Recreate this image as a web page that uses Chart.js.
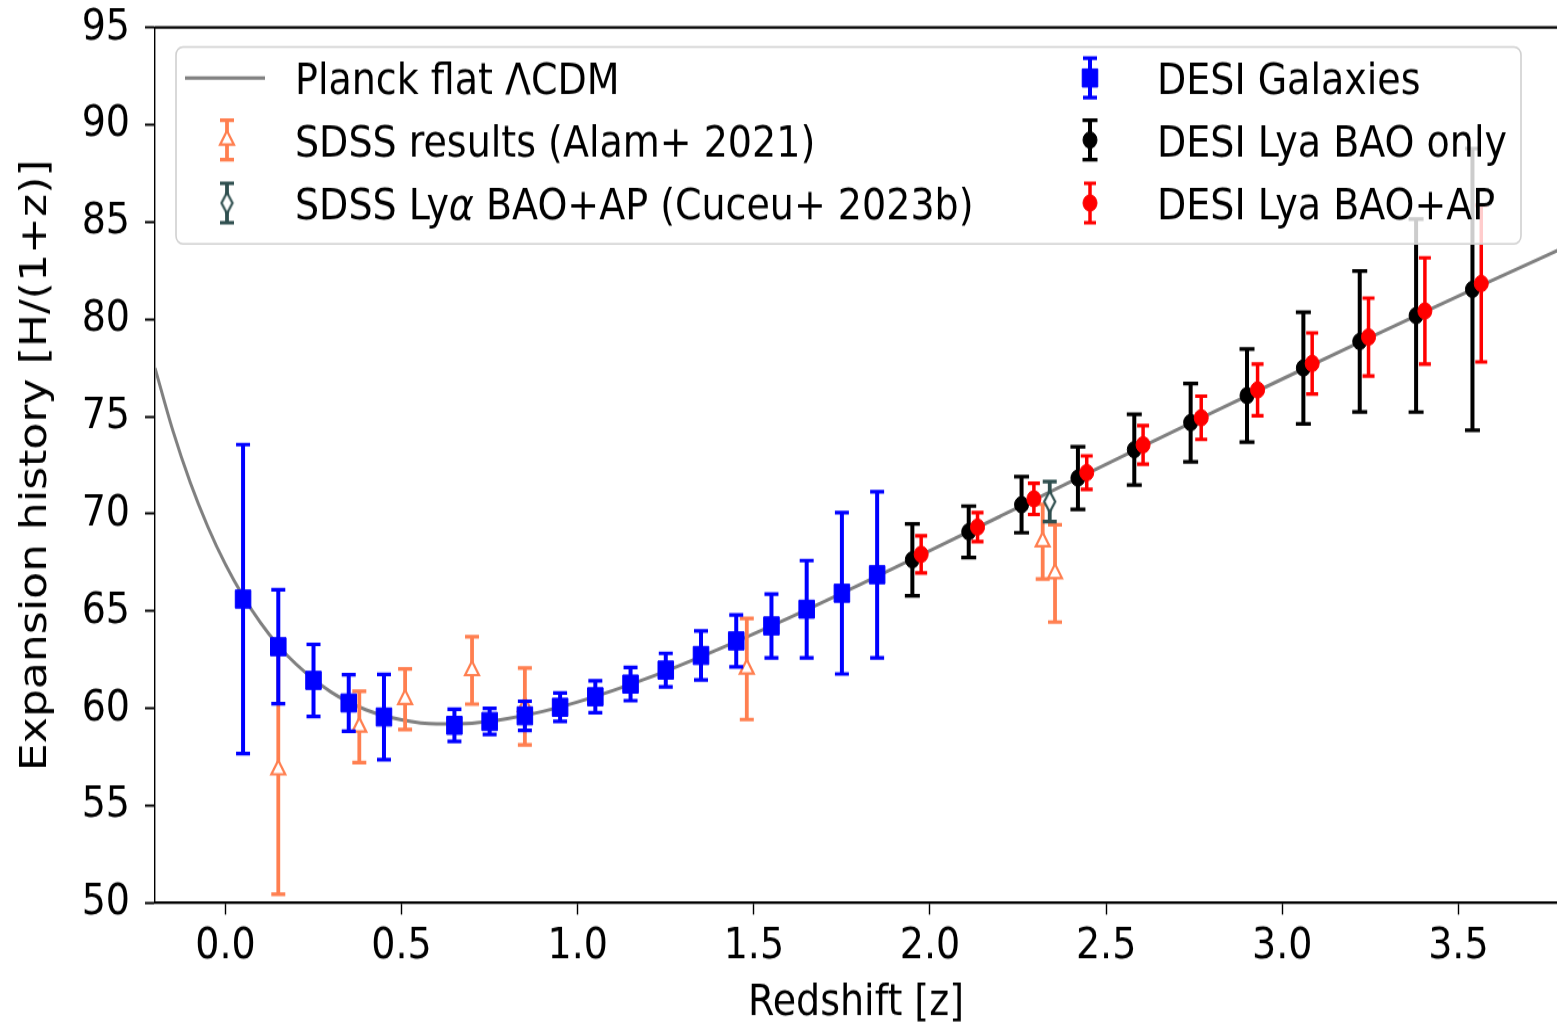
<!DOCTYPE html>
<html><head><meta charset="utf-8">
<script src="https://cdn.jsdelivr.net/npm/chart.js@4.4.1/dist/chart.umd.min.js"></script>
<style>
html,body{margin:0;padding:0;overflow:hidden;background:#fff;width:1557px;height:1022px}
#wrap{position:absolute;left:0;top:0;width:1557px;height:881px;transform:scaleY(1.16);transform-origin:0 0}
canvas{display:block}
</style></head><body>
<div id="wrap"><canvas id="c" width="1557" height="881"></canvas></div>
<script>
// ---------- data ----------
const xTicks = [0, 0.5, 1.0, 1.5, 2.0, 2.5, 3.0, 3.5];
const xTickLabels = ['0.0','0.5','1.0','1.5','2.0','2.5','3.0','3.5'];
const yTicks = [50, 55, 60, 65, 70, 75, 80, 85, 90, 95];
const yTickLabels = ['50','55','60','65','70','75','80','85','90','95'];

// Planck flat LCDM curve, H/(1+z)
const curveZ = [-0.2,-0.15,-0.1,-0.05,0,0.05,0.1,0.15,0.2,0.3,0.4,0.5,0.6,0.7,0.8,0.9,1.0,1.2,1.4,1.6,1.8,2.0,2.2,2.4,2.6,2.8,3.0,3.2,3.4,3.6,3.8];
const curveH = [77.5,74.32,71.62,69.34,67.4,65.77,64.39,63.23,62.28,60.84,59.92,59.41,59.2,59.24,59.47,59.84,60.33,61.57,63.05,64.66,66.36,68.11,69.88,71.66,73.43,75.19,76.93,78.65,80.35,82.03,83.69];

// SDSS results (Alam+ 2021)
const sdssZ   = [0.15, 0.38, 0.51, 0.70, 0.85, 1.48, 2.32, 2.355];
const sdssH   = [56.85, 59.05, 60.47, 61.95, 60.1, 62.03, 68.57, 66.94];
const sdssErr = [6.4, 1.83, 1.56, 1.73, 1.97, 2.6, 1.92, 2.5];

// SDSS Lya BAO+AP (Cuceu+ 2023b)
const lyaSdssZ   = [2.34];
const lyaSdssH   = [70.63];
const lyaSdssErr = [1.03];

// DESI Galaxies
const galZ   = [0.05,0.15,0.25,0.35,0.45,0.65,0.75,0.85,0.95,1.05,1.15,1.25,1.35,1.45,1.55,1.65,1.75,1.85];
const galH   = [65.62,63.17,61.44,60.28,59.56,59.13,59.33,59.62,60.06,60.6,61.25,61.97,62.72,63.47,64.24,65.1,65.92,66.87];
const galErr = [7.94,2.93,1.85,1.45,2.19,0.83,0.67,0.75,0.73,0.82,0.85,0.86,1.26,1.33,1.64,2.5,4.15,4.27];

// DESI Lya BAO only
const baoZ   = [1.95,2.11,2.26,2.42,2.58,2.74,2.90,3.06,3.22,3.38,3.54];
const baoH   = [67.64,69.08,70.47,71.84,73.3,74.69,76.08,77.5,78.86,80.19,81.54];
const baoErr = [1.85,1.32,1.44,1.61,1.82,2.01,2.39,2.87,3.62,4.96,7.24];

// DESI Lya BAO+AP
const apZ   = [1.975,2.135,2.295,2.445,2.605,2.77,2.93,3.085,3.245,3.405,3.565];
const apH   = [67.92,69.32,70.77,72.12,73.55,74.94,76.37,77.73,79.09,80.43,81.84];
const apErr = [0.95,0.75,0.8,0.86,0.99,1.11,1.33,1.57,2.0,2.73,4.03];

// ---------- helpers ----------
const pts = (xs, ys) => xs.map((x, i) => ({x: x, y: ys[i]}));
const FONT = '"DejaVu Sans", sans-serif';
const SLATE = '#2f4f4f', CORAL = '#ff7f50';

// thin diamond marker
const diamond = document.createElement('canvas');
diamond.width = 15; diamond.height = 21;
(function(){
  const g = diamond.getContext('2d');
  g.beginPath();
  g.moveTo(7.5, 1.5); g.lineTo(13, 10.5); g.lineTo(7.5, 19.5); g.lineTo(2, 10.5); g.closePath();
  g.fillStyle = '#fff'; g.fill();
  g.lineWidth = 2.2; g.strokeStyle = SLATE; g.stroke();
})();

Chart.defaults.color = '#000';
Chart.defaults.font.family = FONT;

const N = 6;
const datasets = [
  {type:'line', label:'Planck flat ΛCDM', data: pts(curveZ, curveH), borderColor:'#808080', borderWidth:3,
   pointRadius:0, cubicInterpolationMode:'monotone', fill:false, order:N-0, handle:'line'},
  {label:'SDSS results (Alam+ 2021)', data: pts(sdssZ, sdssH), yerr: sdssErr, errColor: CORAL, errWidth:3.8, capW:14,
   pointStyle:'triangle', pointRadius:8, backgroundColor:'#fff', borderColor:CORAL, borderWidth:2.2, order:N-1},
  {label:'SDSS Lyα BAO+AP (Cuceu+ 2023b)', data: pts(lyaSdssZ, lyaSdssH), yerr: lyaSdssErr, errColor: SLATE, errWidth:3.8, capW:14,
   pointStyle: diamond, pointRadius:8, backgroundColor:'#fff', borderColor:SLATE, borderWidth:2, order:N-2},
  {label:'DESI Galaxies', data: pts(galZ, galH), yerr: galErr, errColor:'#0000ff', errWidth:4, capW:14,
   pointStyle:'rect', pointRadius:11, backgroundColor:'#0000ff', borderColor:'#0000ff', borderWidth:1, order:N-3},
  {label:'DESI Lya BAO only', data: pts(baoZ, baoH), yerr: baoErr, errColor:'#000', errWidth:4, capW:15,
   pointStyle:'circle', pointRadius:7, backgroundColor:'#000', borderColor:'#000', borderWidth:1, order:N-4},
  {label:'DESI Lya BAO+AP', data: pts(apZ, apH), yerr: apErr, errColor:'#ff0000', errWidth:3.5, capW:12,
   pointStyle:'circle', pointRadius:7, backgroundColor:'#ff0000', borderColor:'#ff0000', borderWidth:1, order:N-5}
];

function drawErr(ctx, x, yTop, yBot, ds) {
  ctx.strokeStyle = ds.errColor;
  ctx.lineWidth = ds.errWidth;
  ctx.lineCap = 'butt';
  ctx.beginPath(); ctx.moveTo(x, yTop); ctx.lineTo(x, yBot); ctx.stroke();
  ctx.lineWidth = 3.2;
  ctx.beginPath();
  ctx.moveTo(x - ds.capW/2, yTop); ctx.lineTo(x + ds.capW/2, yTop);
  ctx.moveTo(x - ds.capW/2, yBot); ctx.lineTo(x + ds.capW/2, yBot);
  ctx.stroke();
}

const errorBars = {
  id: 'errorBars',
  beforeDatasetDraw(chart, args) {
    const ds = chart.data.datasets[args.index];
    if (!ds.yerr) return;
    const ctx = chart.ctx, ys = chart.scales.y, a = chart.chartArea;
    ctx.save();
    ctx.beginPath(); ctx.rect(a.left, a.top, a.right - a.left, a.bottom - a.top); ctx.clip();
    args.meta.data.forEach((el, i) => {
      const v = ds.data[i].y, e = ds.yerr[i];
      drawErr(ctx, el.x, ys.getPixelForValue(v + e), ys.getPixelForValue(v - e), ds);
    });
    ctx.restore();
  }
};

function drawMarker(ctx, ds, x, y) {
  const st = ds.pointStyle, r = ds.pointRadius;
  ctx.save();
  if (st instanceof HTMLCanvasElement) { ctx.drawImage(st, x - st.width/2, y - st.height/2); ctx.restore(); return; }
  ctx.fillStyle = ds.backgroundColor; ctx.strokeStyle = ds.borderColor; ctx.lineWidth = ds.borderWidth;
  ctx.beginPath();
  if (st === 'rect') { const s = r * Math.SQRT1_2; ctx.rect(x - s, y - s, 2*s, 2*s); }
  else if (st === 'circle') { ctx.arc(x, y, r, 0, Math.PI*2); }
  else if (st === 'triangle') {
    for (let k = 0; k < 3; k++) { const an = k * 2 * Math.PI / 3; const px = x + Math.sin(an)*r, py = y - Math.cos(an)*r; k ? ctx.lineTo(px, py) : ctx.moveTo(px, py); }
    ctx.closePath();
  }
  ctx.fill(); ctx.stroke();
  ctx.restore();
}

function drawLabel(ctx, text, x, y) {
  const parts = text.split('α');
  let cx = x;
  parts.forEach((p, i) => {
    ctx.font = '38px ' + FONT; ctx.fillText(p, cx, y); cx += ctx.measureText(p).width;
    if (i < parts.length - 1) { ctx.font = 'italic 38px ' + FONT; ctx.fillText('α', cx, y); cx += ctx.measureText('α').width; }
  });
}

const frameAndLegend = {
  id: 'frameAndLegend',
  afterDraw(chart) {
    const ctx = chart.ctx, a = chart.chartArea;
    // top spine
    ctx.save();
    ctx.strokeStyle = '#000'; ctx.lineWidth = 2.2;
    ctx.beginPath(); ctx.moveTo(a.left - 0.6, a.top); ctx.lineTo(a.right, a.top); ctx.stroke();
    // legend box
    const bx = 176, by = 40.5, bw = 1521 - 176, bh = 210.3 - 40.5, rr = 7;
    ctx.beginPath();
    ctx.roundRect(bx, by, bw, bh, rr);
    ctx.fillStyle = 'rgba(255,255,255,0.8)'; ctx.fill();
    ctx.strokeStyle = '#d0d0d0'; ctx.lineWidth = 1.6; ctx.stroke();
    const rowsY = [67.2, 120.7, 175.0];
    const cols = [{hx: 227, tx: 295, items: [0, 1, 2]}, {hx: 1090, tx: 1157, items: [3, 4, 5]}];
    ctx.textBaseline = 'alphabetic'; ctx.textAlign = 'left'; ctx.fillStyle = '#000';
    cols.forEach(col => {
      col.items.forEach((di, r) => {
        const ds = chart.data.datasets[di], cy = rowsY[r];
        if (ds.handle === 'line') {
          ctx.strokeStyle = ds.borderColor; ctx.lineWidth = ds.borderWidth;
          ctx.beginPath(); ctx.moveTo(185, cy); ctx.lineTo(265, cy); ctx.stroke();
        } else {
          drawErr(ctx, col.hx, cy - 17, cy + 17, ds);
          drawMarker(ctx, ds, col.hx, cy);
        }
        ctx.fillStyle = '#000';
        drawLabel(ctx, ds.label, col.tx, cy + 13.85);
      });
    });
    ctx.restore();
  }
};

new Chart(document.getElementById('c'), {
  type: 'scatter',
  data: {datasets},
  plugins: [errorBars, frameAndLegend],
  options: {
    responsive: false, animation: false, devicePixelRatio: 1,
    layout: {padding: {top: 23.7, left: 0, right: 0, bottom: 0}, autoPadding: false},
    plugins: {legend: {display: false}, tooltip: {enabled: false}, title: {display: false}},
    scales: {
      x: {
        type: 'linear', min: -0.2, max: 3.78,
        afterBuildTicks: s => { s.ticks = xTicks.map(v => ({value: v})); },
        afterFit: s => { s.height = 881 - 778.4; s.paddingLeft = 0; s.paddingRight = 0; s.paddingTop = 0; s.paddingBottom = 0; },
        ticks: {font: {size: 38, family: FONT}, color: '#000', padding: 5, maxRotation: 0,
                callback: (v, i) => xTickLabels[i]},
        grid: {display: true, drawOnChartArea: false, drawTicks: true, tickLength: 10, tickWidth: 1.4, tickColor: '#000'},
        border: {display: true, color: '#000', width: 2.2},
        title: {display: true, text: 'Redshift [z]', font: {size: 38, family: FONT}, color: '#000', padding: {top: 0, bottom: -7}}
      },
      y: {
        type: 'linear', min: 50, max: 95,
        afterBuildTicks: s => { s.ticks = yTicks.map(v => ({value: v})); },
        afterFit: s => { s.width = 155; s.paddingTop = 0; s.paddingBottom = 0; s.paddingLeft = 0; s.paddingRight = 0; },
        ticks: {font: {size: 38, family: FONT}, color: '#000', padding: 15,
                callback: (v, i) => yTickLabels[i]},
        grid: {display: true, drawOnChartArea: false, drawTicks: true, tickLength: 10, tickWidth: 2, tickColor: '#000'},
        border: {display: true, color: '#000', width: 1.4},
        title: {display: true, text: 'Expansion history [H/(1+z)]', font: {size: 38, family: FONT}, color: '#000', padding: {top: 13, bottom: 0}}
      }
    }
  }
});
</script>
</body></html>
